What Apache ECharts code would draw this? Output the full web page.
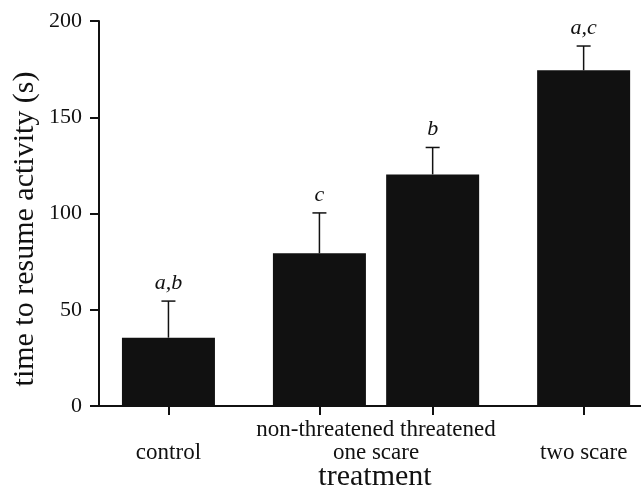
<!DOCTYPE html>
<html>
<head>
<meta charset="utf-8">
<script src="https://cdn.jsdelivr.net/npm/echarts@6/dist/echarts.min.js"></script>
<style>
  html, body { margin: 0; padding: 0; background: #fff; }
  #chart { width: 641px; height: 490px; }
</style>
</head>
<body>
<div id="chart"></div>
<script>
// data
const categories = ['control', 'non-threatened', 'threatened', 'two scare'];
const groupX = [1, 2, 2.75, 3.75];
const means = [35.5, 79.3, 120.3, 174.4];
const errors = [19, 21, 14, 12.6];
const letters = ['a,b', 'c', 'b', 'a,c'];
const tickLabels = ['\ncontrol', 'non-threatened threatened\none scare', '\ntwo scare'];
const tickLabelX = [groupX[0], (groupX[1] + groupX[2]) / 2, groupX[3]];

const serif = '"Liberation Serif", "DejaVu Serif", serif';
const ink = '#111';

var chart = echarts.init(document.getElementById('chart'));

function renderErr(params, api) {
  let x = api.value(0);
  let m = api.value(1);
  let e = api.value(2);
  let base = api.coord([x, m]);
  let top = api.coord([x, m + e]);
  return {
    type: 'group',
    children: [
      {
        type: 'line',
        shape: { x1: top[0], y1: top[1], x2: base[0], y2: base[1] },
        style: { stroke: ink, lineWidth: 1.5 }
      },
      {
        type: 'line',
        shape: { x1: top[0] - 7, y1: top[1], x2: top[0] + 7, y2: top[1] },
        style: { stroke: ink, lineWidth: 1.5 }
      },
      {
        type: 'text',
        x: top[0],
        y: top[1] - 7,
        style: {
          text: letters[params.dataIndex],
          font: 'italic 22px ' + serif,
          fill: ink,
          textAlign: 'center',
          textVerticalAlign: 'bottom'
        }
      }
    ]
  };
}

let option = {
  animation: false,
  grid: {
    left: 99,
    right: 0,
    top: 21,
    bottom: 84,
    containLabel: false,
    outerBoundsMode: 'none'
  },
  xAxis: {
    type: 'value',
    min: 0.54,
    max: 4.13,
    name: 'treatment',
    nameLocation: 'middle',
    nameGap: 56,
    nameMoveOverlap: false,
    nameTextStyle: { fontFamily: serif, fontSize: 30, color: ink, padding: [0, 0, 0, 10] },
    splitLine: { show: false },
    axisLine: { show: true, lineStyle: { color: ink, width: 2 } },
    axisTick: {
      show: true,
      length: 9,
      customValues: groupX,
      lineStyle: { color: ink, width: 2 }
    },
    axisLabel: {
      customValues: tickLabelX,
      formatter: function (v) {
        let i = tickLabelX.findIndex(t => Math.abs(t - v) < 1e-6);
        return i >= 0 ? tickLabels[i] : '';
      },
      fontFamily: serif,
      fontSize: 23,
      lineHeight: 23,
      color: ink,
      margin: 12
    }
  },
  yAxis: {
    type: 'value',
    min: 0,
    max: 200,
    interval: 50,
    name: 'time to resume activity (s)',
    nameLocation: 'middle',
    nameGap: 59,
    nameMoveOverlap: false,
    nameTextStyle: { fontFamily: serif, fontSize: 30, color: ink, padding: [0, 31, 0, 0] },
    splitLine: { show: false },
    axisLine: { show: true, lineStyle: { color: ink, width: 2 } },
    axisTick: { show: true, length: 9, lineStyle: { color: ink, width: 2 } },
    axisLabel: { fontFamily: serif, fontSize: 22, color: ink, margin: 17 }
  },
  series: [
    {
      name: 'mean',
      type: 'bar',
      barWidth: 93,
      itemStyle: { color: ink },
      data: groupX.map((x, i) => [x, means[i]])
    },
    {
      name: 'error',
      type: 'custom',
      renderItem: renderErr,
      z: 3,
      data: groupX.map((x, i) => [x, means[i], errors[i]])
    }
  ]
};

option && chart.setOption(option);
</script>
</body>
</html>
